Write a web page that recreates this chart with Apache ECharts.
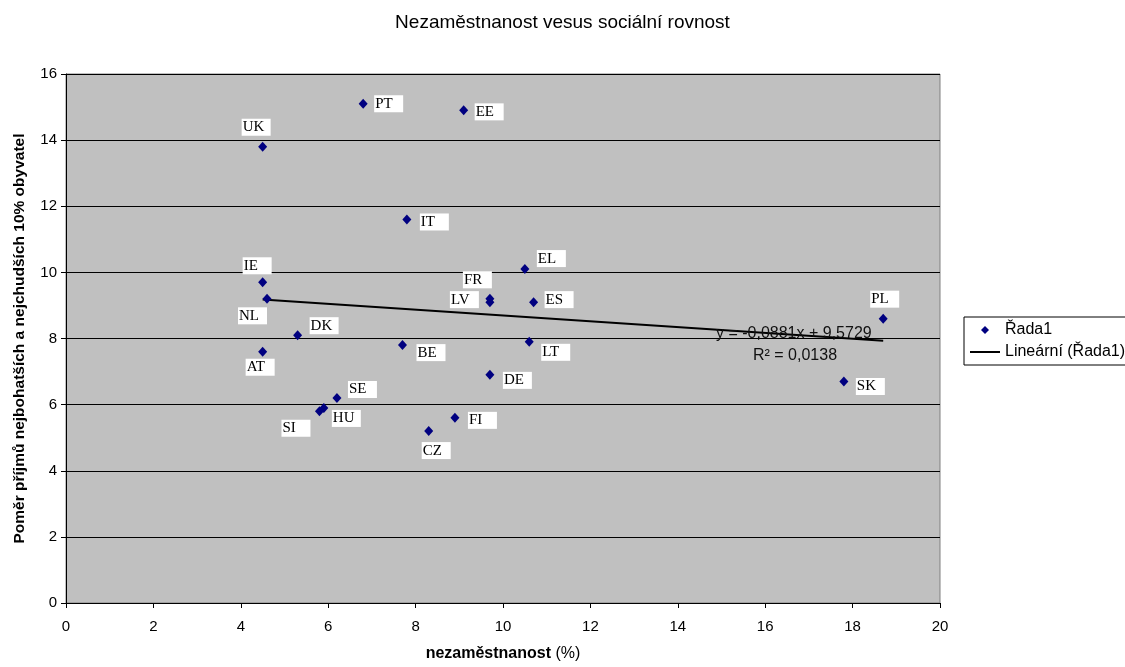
<!DOCTYPE html>
<html>
<head>
<meta charset="utf-8">
<script src="https://cdn.jsdelivr.net/npm/echarts@6/dist/echarts.min.js"></script>
<style>
html,body{margin:0;padding:0;background:#fff;overflow:hidden;}
#chart{width:1125px;height:667px;}
</style>
</head>
<body>
<div id="chart"></div>
<script>
// ---- data ----
const countries    = ['UK','PT','EE','IT','IE','EL','FR','LV','ES','NL','DK','AT','BE','LT','DE','SE','HU','SI','FI','CZ','PL','SK'];
const unemployment = [4.5, 6.8, 9.1, 7.8, 4.5, 10.5, 9.7, 9.7, 10.7, 4.6, 5.3, 4.5, 7.7, 10.6, 9.7, 6.2, 5.9, 5.8, 8.9, 8.3, 18.7, 17.8];
const incomeRatio  = [13.8, 15.1, 14.9, 11.6, 9.7, 10.1, 9.2, 9.1, 9.1, 9.2, 8.1, 7.6, 7.8, 7.9, 6.9, 6.2, 5.9, 5.8, 5.6, 5.2, 8.6, 6.7];
const trendX = [4.5, 18.7];
const trendY = [9.18, 7.93];
const equationText = 'y = -0,0881x + 9,5729';
const r2Text = 'R² = 0,0138';
const titleText = 'Nezaměstnanost vesus sociální rovnost';
const xTitle = 'nezaměstnanost';
const xTitleUnit = ' (%)';
const yTitle = 'Poměr příjmů nejbohatších a nejchudších 10% obyvatel';
const seriesName = 'Řada1';
const trendName = 'Lineární (Řada1)';

// ---- label placement (style, px offsets of label box from its point) ----
const labelOffsets = {
  UK:[-21,-19.5], PT:[11,0], EE:[11,1.5], IT:[13,2.5], IE:[-20,-16.5], EL:[12,-10.5],
  FR:[-27,-19], LV:[-40,-2.5], ES:[11,-2.5], NL:[-29,17], DK:[12,-9.5], AT:[-17,15.5],
  BE:[14,7.5], LT:[12,10.5], DE:[13,5.5], SE:[11,-8.5], HU:[8,10.5], SI:[-38,17],
  FI:[13,2.5], CZ:[-7,19.5], PL:[-13,-19.5], SK:[12,5]
};

const SANS = '"Liberation Sans", Arial, sans-serif';
const SERIF = '"Liberation Serif", "Times New Roman", serif';

const scatterData = countries.map((c, i) => ({
  name: c,
  value: [unemployment[i], incomeRatio[i]],
  label: { offset: labelOffsets[c] || [10, 0] }
}));

const trendData = trendX.map((x, i) => [x, trendY[i]]);

const chart = echarts.init(document.getElementById('chart'), null, {renderer: 'canvas', width: 1125, height: 667});
chart.setOption({
  animation: false,
  backgroundColor: '#ffffff',
  title: {
    text: titleText,
    left: 'center',
    top: 8,
    textStyle: { fontFamily: SANS, fontSize: 19, fontWeight: 'normal', color: '#000' }
  },
  grid: {
    left: 66, top: 74, width: 874, height: 534,
    show: true, backgroundColor: '#C0C0C0', borderColor: '#808080', borderWidth: 1,
    containLabel: false
  },
  legend: {
    orient: 'vertical',
    left: 964, top: 317,
    backgroundColor: '#ffffff',
    borderColor: '#000', borderWidth: 1, borderRadius: 0,
    padding: [5, 6, 5, 6],
    itemGap: 6,
    itemWidth: 30, itemHeight: 10,
    textStyle: { fontFamily: SANS, fontSize: 16, color: '#000' },
    itemStyle: { borderWidth: 0 },
    data: [
      { name: seriesName, icon: 'path://M0,0 M30,10 M15,1 L19,5 L15,9 L11,5 Z' },
      { name: trendName, icon: 'path://M0,0 M30,10 M0,4 L30,4 L30,6 L0,6 Z' }
    ]
  },
  xAxis: {
    type: 'value', min: 0, max: 20, interval: 2,
    name: '{b|' + xTitle + '}{n|' + xTitleUnit + '}',
    nameLocation: 'middle', nameGap: 43,
    nameTextStyle: {
      fontFamily: SANS, fontSize: 16, color: '#000',
      rich: {
        b: { fontFamily: SANS, fontSize: 16, fontWeight: 'bold', color: '#000' },
        n: { fontFamily: SANS, fontSize: 16, fontWeight: 'normal', color: '#000' }
      }
    },
    axisLine: { show: true, onZero: false, lineStyle: { color: '#000', width: 1 } },
    axisTick: { show: true, inside: false, length: 5, lineStyle: { color: '#000' } },
    axisLabel: { margin: 16, fontFamily: SANS, fontSize: 15, color: '#000' },
    splitLine: { show: false }
  },
  yAxis: {
    type: 'value', min: 0, max: 16, interval: 2,
    name: yTitle,
    nameLocation: 'middle', nameGap: 38, nameRotate: 90,
    nameTextStyle: { fontFamily: SANS, fontSize: 15.5, fontWeight: 'bold', color: '#000' },
    axisLine: { show: true, onZero: false, lineStyle: { color: '#000', width: 1 } },
    axisTick: { show: true, inside: false, length: 5, lineStyle: { color: '#000' } },
    axisLabel: { margin: 9, fontFamily: SANS, fontSize: 15, color: '#000' },
    splitLine: { show: true, lineStyle: { color: '#000', width: 1 } }
  },
  series: [
    {
      name: trendName,
      type: 'line',
      data: trendData,
      symbol: 'none',
      color: '#000',
      lineStyle: { color: '#000', width: 2 },
      z: 2
    },
    {
      name: seriesName,
      type: 'scatter',
      data: scatterData,
      symbol: 'diamond',
      symbolSize: [9, 10],
      color: '#000080',
      itemStyle: { color: '#000080', opacity: 1 },
      z: 3,
      label: {
        show: true,
        position: 'inside',
        align: 'left',
        verticalAlign: 'middle',
        formatter: p => p.name,
        fontFamily: SERIF, fontSize: 15, color: '#000',
        backgroundColor: '#ffffff',
        width: 27, height: 17, lineHeight: 18,
        padding: [0, 1, 0, 1]
      }
    }
  ],
  graphic: [
    { type: 'text', left: 716, top: 326, z: 10,
      style: { text: equationText, font: '16px ' + SANS, fill: '#111' } },
    { type: 'text', left: 753, top: 348, z: 10,
      style: { text: r2Text, font: '16px ' + SANS, fill: '#111' } }
  ]
});
</script>
</body>
</html>
